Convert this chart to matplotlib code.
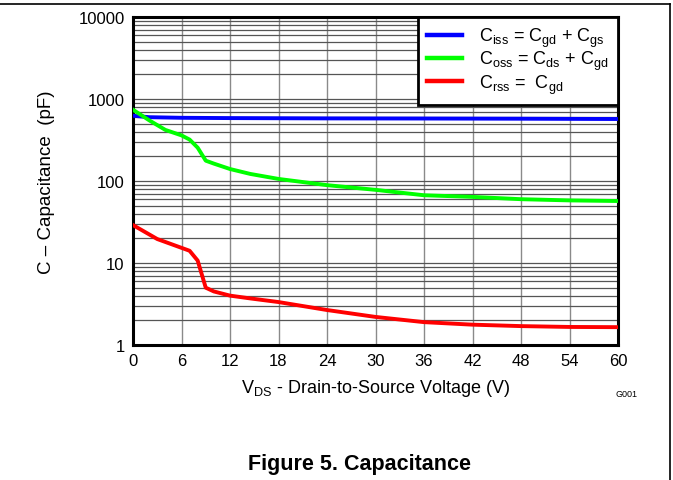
import matplotlib
matplotlib.use("Agg")
import matplotlib.pyplot as plt
from matplotlib.lines import Line2D

plt.rcParams['font.family'] = ['Liberation Sans', 'DejaVu Sans']
plt.rcParams['mathtext.fontset'] = 'custom'
plt.rcParams['mathtext.rm'] = 'Liberation Sans'
plt.rcParams['mathtext.default'] = 'regular'

# Data
ciss_v = [0, 2, 6, 12, 24, 36, 48, 60]
ciss_c = [625, 600, 590, 585, 580, 578, 575, 570]

coss_v = [0, 2, 4, 6, 7, 8, 9, 10, 12, 14.5, 18, 24, 30, 36, 42, 48, 54, 60]
coss_c = [740, 550, 420, 360, 320, 255, 177, 163, 140, 122, 106, 89, 78, 67, 64, 60, 58, 57]

crss_v = [0, 3, 7, 8, 9, 10, 12, 14.5, 18, 24, 30, 36, 42, 48, 54, 60]
crss_c = [29, 19.6, 14.1, 10.7, 5.0, 4.5, 4.0, 3.7, 3.34, 2.67, 2.2, 1.9, 1.77, 1.7, 1.66, 1.65]

x_ticks = [0, 6, 12, 18, 24, 30, 36, 42, 48, 54, 60]
y_ticks = [1, 10, 100, 1000, 10000]
y_ticklabels = ['1', '10', '100', '1000', '10000']

labels = [r'C$_{iss}$ = C$_{gd}$ + C$_{gs}$',
          r'C$_{oss}$ = C$_{ds}$ + C$_{gd}$',
          r'C$_{rss}$ =  C$_{gd}$']
colors = ['#0000ff', '#00ff00', '#ff0000']

fig = plt.figure(figsize=(6.73, 4.81), dpi=100)
ax = fig.add_axes([133/673, 1 - 346/481, (618-133)/673, (346-18)/481])

ax.plot(ciss_v, ciss_c, color=colors[0], lw=2.8, zorder=3)
ax.plot(coss_v, coss_c, color=colors[1], lw=2.8, zorder=3)
ax.plot(crss_v, crss_c, color=colors[2], lw=2.8, zorder=3)

ax.set_yscale('log')
ax.set_xlim(0, 60)
ax.set_ylim(1, 10000)
ax.set_xticks(x_ticks)
ax.set_xticklabels([str(t) for t in x_ticks], fontsize=12)
ax.set_yticks(y_ticks)
ax.set_yticklabels(y_ticklabels, fontsize=12)
ax.yaxis.set_minor_formatter(matplotlib.ticker.NullFormatter())
ax.tick_params(which='both', length=0, pad=6)

ax.grid(True, axis='x', which='major', color='#8a8a8a', lw=1.0)
ax.grid(True, axis='y', which='both', color='#555555', lw=0.9)
ax.set_axisbelow(True)
for s in ax.spines.values():
    s.set_linewidth(2.2)
    s.set_color('black')

ax.set_xlabel(r'V$_{DS}$ - Drain-to-Source Voltage (V)', fontsize=13, labelpad=6)
ax.set_ylabel('C – Capacitance  (pF)', fontsize=13.5, labelpad=17)

handles = [Line2D([], [], color=c, lw=3.2) for c in colors]
leg = ax.legend(handles, labels, loc='upper right', fontsize=13, frameon=True,
                fancybox=False, framealpha=1, edgecolor='black',
                borderaxespad=0, handlelength=1.95, handletextpad=0.95,
                labelspacing=0.0, borderpad=0.5)
leg.get_frame().set_linewidth(2.0)
leg.set_zorder(5)

fig.text(627/673, 1 - 395/481, 'G001', fontsize=6.5, ha='center', va='center')
fig.text(359/673, 1 - 465/481, 'Figure 5. Capacitance', fontsize=15.5,
         fontweight='bold', ha='center', va='center')

# page border lines
fig.add_artist(Line2D([0, 670/673], [1 - 4.5/481, 1 - 4.5/481], color='black', lw=1.2,
                      transform=fig.transFigure))
fig.add_artist(Line2D([670/673, 670/673], [0, 1 - 4.5/481], color='black', lw=1.2,
                      transform=fig.transFigure))

fig.savefig('out.png', dpi=100)
